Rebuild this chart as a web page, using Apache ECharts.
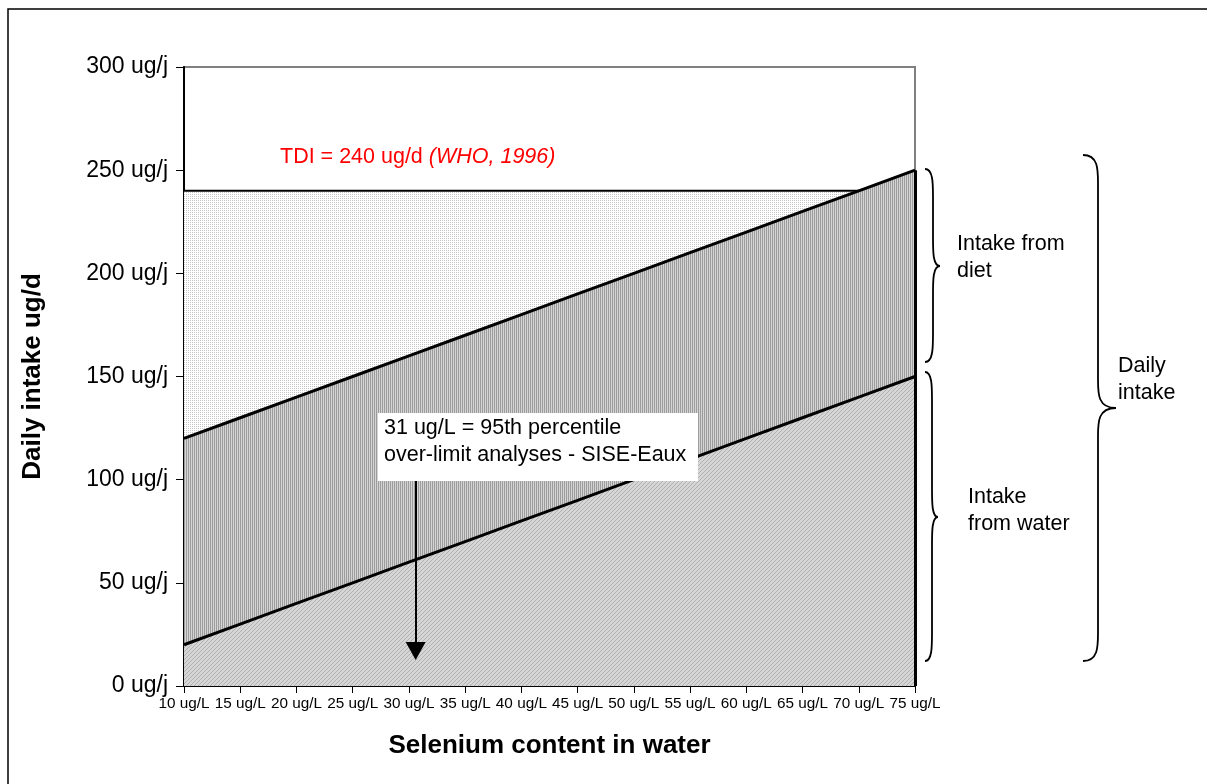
<!DOCTYPE html>
<html><head><meta charset="utf-8">
<script src="https://cdn.jsdelivr.net/npm/echarts@6/dist/echarts.min.js"></script>
<style>html,body{margin:0;padding:0;background:#fff}#c{width:1207px;height:784px}</style>
</head><body><div id="c"></div>
<script>
// ---- data ----
var concentrations = [10,15,20,25,30,35,40,45,50,55,60,65,70,75]; // ug/L
var waterIntake = [20,30,40,50,60,70,80,90,100,110,120,130,140,150]; // ug/d
var dietIntake = [100,100,100,100,100,100,100,100,100,100,100,100,100,100]; // ug/d
var tdiLimit = [240,240,240,240,240,240,240,240,240,240,240,240,240,null]; // ug/d
var arrowX = 30.6, arrowTop = 110, arrowBottom = 17;

var totalIntake = waterIntake.map(function(w,i){return w+dietIntake[i];});

function pattern(w,h,draw){
  var c=document.createElement('canvas');c.width=w;c.height=h;
  var g=c.getContext('2d');draw(g);return {image:c,repeat:'repeat'};
}
var dotPat = pattern(2,2,function(g){g.fillStyle='#fff';g.fillRect(0,0,2,2);g.fillStyle='#c4c4c4';g.fillRect(0,0,1,1);});
var stripePat = pattern(2,1,function(g){g.fillStyle='#9c9c9c';g.fillRect(0,0,1,1);g.fillStyle='#d4d4d4';g.fillRect(1,0,1,1);});
var diagPat = pattern(4,4,function(g){g.fillStyle='#d6d6d6';g.fillRect(0,0,4,4);g.fillStyle='#b0b0b0';for(var i=0;i<4;i++){g.fillRect(i,(3-i),1,1);} });

function pairs(ys){return concentrations.map(function(x,i){return [x,ys[i]];});}

var braceStyle = {fill:'none',stroke:'#000',lineWidth:1.8};
function brace(x0,xv,xt,y1,ym,y2){
  var r=Math.min(14,(ym-y1)/4);
  function bz(a,b,c,d,e,f,g,h){return {type:'bezierCurve',shape:{x1:a,y1:b,cpx1:c,cpy1:d,cpx2:e,cpy2:f,x2:g,y2:h},style:braceStyle,z:100,silent:true};}
  function ln(a,b,c,d){return {type:'line',shape:{x1:a,y1:b,x2:c,y2:d},style:braceStyle,z:100,silent:true};}
  return [
    bz(x0,y1, xv,y1, xv,y1+r, xv,y1+2*r),
    ln(xv,y1+2*r, xv,ym-2*r),
    bz(xv,ym-2*r, xv,ym-r, xv,ym, xt,ym),
    bz(xt,ym, xv,ym, xv,ym+r, xv,ym+2*r),
    ln(xv,ym+2*r, xv,y2-2*r),
    bz(xv,y2-2*r, xv,y2-r, xv,y2, x0,y2)
  ];
}

var FF='Liberation Sans, Arial, sans-serif';
var chart = echarts.init(document.getElementById('c'));
var txt = {fontFamily:FF, fontSize:21.5, fill:'#000'};
var graphics = [
  {type:'rect',shape:{x:8,y:9,width:1300,height:900},style:{fill:'none',stroke:'#000',lineWidth:1.5},z:-10,silent:true},
  {type:'text',x:280,y:146,style:{rich:{a:{fontFamily:FF,fontSize:21.5,fill:'#ff0000'},b:{fontFamily:FF,fontSize:21.5,fontStyle:'italic',fill:'#ff0000'}},text:'{a|TDI = 240 ug/d }{b|(WHO, 1996)}'},z:100},
  {type:'rect',shape:{x:378,y:413,width:320,height:68},style:{fill:'#fff'},z:100},
  {type:'text',x:384,y:415,style:Object.assign({},txt,{text:'31 ug/L = 95th percentile\nover-limit analyses - SISE-Eaux',lineHeight:27}),z:101},
  {type:'text',x:957,y:231,style:Object.assign({},txt,{text:'Intake from\ndiet',lineHeight:27}),z:100},
  {type:'text',x:968,y:484,style:Object.assign({},txt,{text:'Intake\nfrom water',lineHeight:27}),z:100},
  {type:'text',x:1118,y:353,style:Object.assign({},txt,{text:'Daily\nintake',lineHeight:27}),z:100}
].concat(brace(925,933,940,169,266,362), brace(925,932,938,372,517,661), brace(1083,1098,1116,155,408,661));

var last = concentrations.length-1;
chart.setOption({
  animation:false,
  backgroundColor:'#fff',
  grid:{left:184,right:292,top:67,bottom:98,show:true,borderColor:'#808080',borderWidth:2,backgroundColor:'transparent'},
  xAxis:{type:'value',min:10,max:75,interval:5,
    name:'Selenium content in water',nameLocation:'middle',nameGap:47,
    nameTextStyle:{fontFamily:FF,fontWeight:'bold',fontSize:26,color:'#000'},
    axisLine:{lineStyle:{color:'#000',width:2}},
    axisTick:{show:true,length:7,lineStyle:{color:'#000',width:1}},
    axisLabel:{formatter:'{value} ug/L',fontFamily:FF,fontSize:15.3,color:'#000',margin:10},
    splitLine:{show:false}},
  yAxis:{type:'value',min:0,max:300,interval:50,
    name:'Daily intake ug/d',nameLocation:'middle',nameGap:138,nameRotate:90,
    nameTextStyle:{fontFamily:FF,fontWeight:'bold',fontSize:26,color:'#000'},
    axisLine:{show:true,lineStyle:{color:'#000',width:2}},
    axisTick:{show:true,length:8,lineStyle:{color:'#000',width:1}},
    axisLabel:{formatter:function(v){return v+' ug/j';},fontFamily:FF,fontSize:23,color:'#000',margin:16},
    splitLine:{show:false}},
  series:[
    {name:'TDI',type:'line',data:pairs(tdiLimit),symbol:'none',connectNulls:false,
      lineStyle:{color:'#000',width:2},areaStyle:{color:dotPat,opacity:1},z:1},
    {name:'Total',type:'line',data:pairs(totalIntake),symbol:'none',
      lineStyle:{color:'#000',width:3},areaStyle:{color:stripePat,opacity:1},z:2,
      markLine:{silent:true,symbol:['none','none'],lineStyle:{color:'#000',width:3,type:'solid'},label:{show:false},
        data:[[{coord:[concentrations[last],0]},{coord:[concentrations[last],totalIntake[last]]}]]}},
    {name:'Water',type:'line',data:pairs(waterIntake),symbol:'none',
      lineStyle:{color:'#000',width:3},areaStyle:{color:diagPat,opacity:1},z:3,
      markLine:{silent:true,symbol:['none','triangle'],symbolSize:[20,18],
        lineStyle:{color:'#000',width:2,type:'solid'},label:{show:false},
        data:[[{coord:[arrowX,arrowTop]},{coord:[arrowX,arrowBottom]}]]}}
  ],
  graphic:graphics
});
</script></body></html>
